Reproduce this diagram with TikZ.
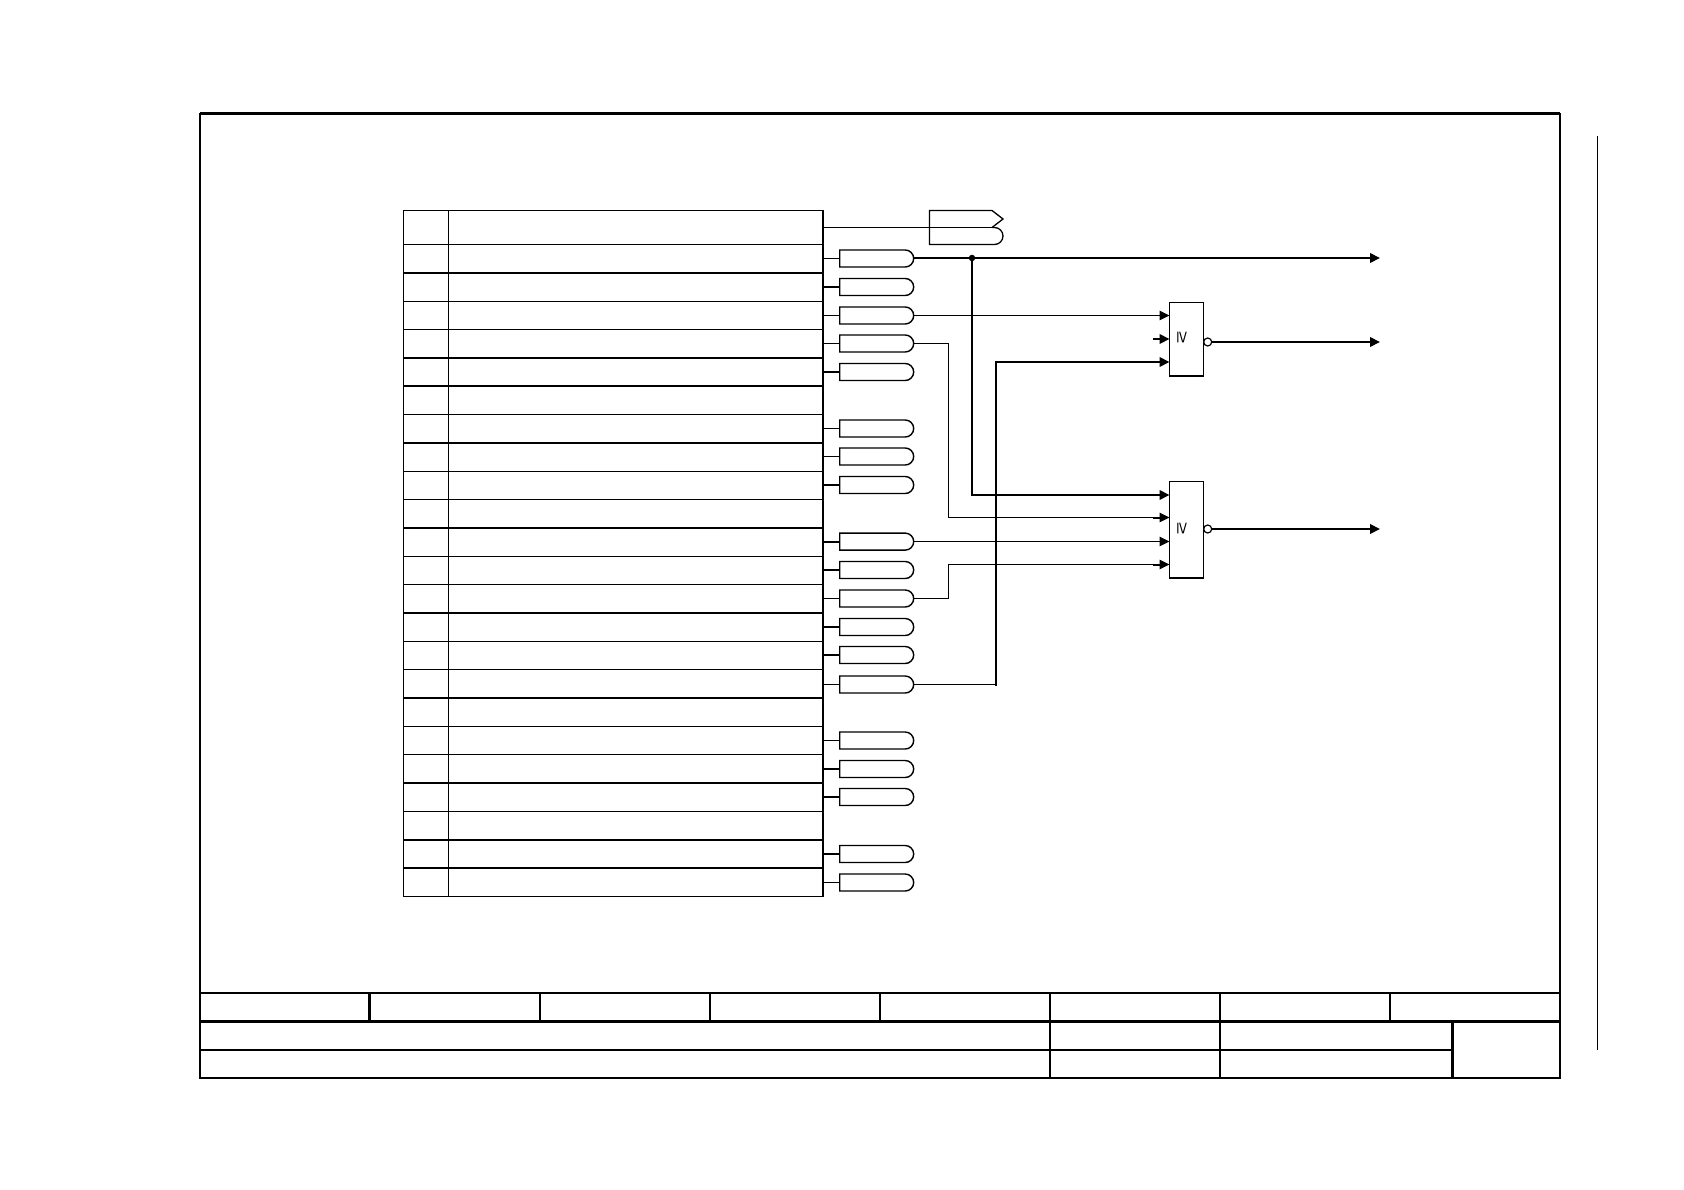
\documentclass[tikz,border=0pt]{standalone}
\usepackage{fontspec}
\setmainfont{Liberation Sans}
\usetikzlibrary{arrows.meta,shapes.misc,calc}
\tikzset{
  thinln/.style={line width=1pt,black},
  boldln/.style={line width=2pt,black},
  frameln/.style={line width=2pt,black},
  heavyln/.style={line width=3pt,black},
  andgate/.style={draw,line width=1.4pt,fill=white,rounded rectangle,rounded rectangle left arc=none,
    minimum width=74pt,minimum height=17pt,inner sep=0pt,outer sep=0pt},
  cellbox/.style={draw,line width=1pt,inner sep=0pt,outer sep=0pt,anchor=north west},
  orbox/.style={draw,line width=1pt,fill=white,inner sep=0pt,outer sep=0pt,minimum width=34pt,anchor=north west},
  oneg/.style={circle,draw,line width=1.2pt,fill=white,minimum size=8pt,inner sep=0pt,outer sep=0pt},
  geqsign/.style={rotate=-90,yscale=.72,font=\fontsize{22}{22}\selectfont,inner sep=0pt},
  tipped/.style={-{Triangle[length=10pt,width=9.5pt]}},
  jdot/.style={circle,fill=black,minimum size=6.5pt,inner sep=0pt,outer sep=0pt}
}
\begin{document}
\begin{tikzpicture}[x=1pt,y=-1pt]
\useasboundingbox (0,0) rectangle (1684,1190);
% frame
\draw[frameln] (200,114) rectangle (1560,1077.5);
\draw[heavyln] (200,114) -- (1560,114);
\draw[thinln] (1597.5,136.5) -- (1597.5,1050);
% title block
\draw[frameln] (200,993) -- (1560,993);
\draw[heavyln] (200,1021.5) -- (1560,1021.5);
\draw[frameln] (200,1050) -- (1452.5,1050);
\draw[heavyln] (369.5,993) -- (369.5,1021.5);
\foreach \x in {540,710,880,1050,1220,1390} \draw[frameln] (\x,993) -- (\x,1021.5);
\draw[frameln] (1050,1021.5) -- (1050,1077.5);
\draw[frameln] (1220,1021.5) -- (1220,1077.5);
\draw[heavyln] (1452.5,1021.5) -- (1452.5,1077.5);
% table
\foreach \k/\ytop/\ybot in {0/210.5/244.5,1/244.5/273,2/273/301.5,3/301.5/329.5,4/329.5/358,5/358/386,
  6/386/414.5,7/414.5/443,8/443/471.5,9/471.5/499.5,10/499.5/528,11/528/556.5,12/556.5/584.5,
  13/584.5/613,14/613/641.5,15/641.5/669.5,16/669.5/698,17/698/726.5,18/726.5/754.5,19/754.5/783,
  20/783/811.5,21/811.5/840,22/840/868,23/868/896.5}{
  \node[cellbox,minimum width=45pt,minimum height={(\ybot-\ytop)*1pt}] (h\k) at (403.5,\ytop) {};
  \node[cellbox,minimum width=374.5pt,minimum height={(\ybot-\ytop)*1pt}] (r\k) at (448.5,\ytop) {};
}
\foreach \k in {1,4,5,7,10,13,16,19,21,22}{
  \draw[boldln] (h\k.south west) -- (r\k.south east);
}
\draw[boldln] (r0.north east) -- (r23.south east);
% gates and their stubs
\foreach \k/\st/\gy in {1/thinln/258.5,2/boldln/287,3/thinln/315.5,4/thinln/343.5,5/boldln/372,7/thinln/428.5,
  8/thinln/456.5,9/boldln/485,11/boldln/541.6,12/boldln/570,13/thinln/598.5,14/boldln/627,15/boldln/655,
  16/thinln/684.5,18/thinln/740.5,19/boldln/769,20/boldln/797,22/boldln/854,23/thinln/882.5}{
  \node[andgate] (g\k) at (876.7,\gy) {};
  \draw[\st] (g\k.west -| r\k.east) -- (g\k.west);
}
% flag symbol at the header row
\coordinate (flagend) at (992,227.5);
\draw[line width=1.3pt] (929.5,227.5) -- (929.5,210.5) -- (992,210.5) -- (1003,219) -- (992,227.5);
\draw[line width=1.3pt] (929.5,227.5) -- (929.5,244.5) -- (994.5,244.5) arc[start angle=90,end angle=-90,x radius=8.5pt,y radius=-8.5pt] -- (992,227.5);
\draw[thinln] (r0.east) -- (flagend);
% OR gates
\node[orbox,minimum height=73.5pt] (ora) at (1169.5,302.5) {};
\node[orbox,minimum height=96.5pt] (orb) at (1169.5,481.5) {};
\draw[boldln] (ora.south west) -- (ora.south east);
\draw[boldln] (orb.south west) -- (orb.south east);
\node[geqsign] (tga) at (1182,338) {≥};
\node[geqsign] (tgb) at (1182,529) {≥};
\node[oneg] (nega) at (1207.7,342) {};
\node[oneg] (negb) at (1207.7,529) {};
\coordinate (a1) at (1169.5,315.5);
\coordinate (a2) at (1169.5,339);
\coordinate (a3) at (1169.5,362);
\coordinate (b1) at (1169.5,495);
\coordinate (b2) at (1169.5,517.5);
\coordinate (b3) at (1169.5,541.5);
\coordinate (b4) at (1169.5,564.5);
\coordinate (outtop) at (1380,258);
\coordinate (outa) at (1380,342);
\coordinate (outb) at (1380,529);
% outputs
\draw[boldln,tipped] (nega.east) -- (outa);
\draw[boldln,tipped] (negb.east) -- (outb);
% wires
\node[jdot] (jn) at (972,258) {};
\draw[boldln,tipped] (outtop -| g1.east) -- (outtop);
\draw[boldln,tipped] (jn.center) |- (b1);
\draw[thinln,tipped] (g3.east) -- (a1);
\draw[thinln,tipped] (g4.east) -| (948.5,517.5) -- (b2);
\draw[thinln,tipped] (b3 -| g11.east) -- (b3);
\draw[thinln,tipped] (g13.east) -| (948.5,564.5) -- (b4);
\draw[thinln] (g16.east) -- (996,684.5);
\draw[boldln,tipped] (996,685.5) |- (a3);
% short input stubs
\draw[boldln,tipped] ($(a2)+(-17,0)$) -- (a2);
\draw[boldln] ($(b2)+(-17,0)$) -- +(8,0);
\draw[boldln] ($(b4)+(-17,0)$) -- +(8,0);
\end{tikzpicture}
\end{document}
